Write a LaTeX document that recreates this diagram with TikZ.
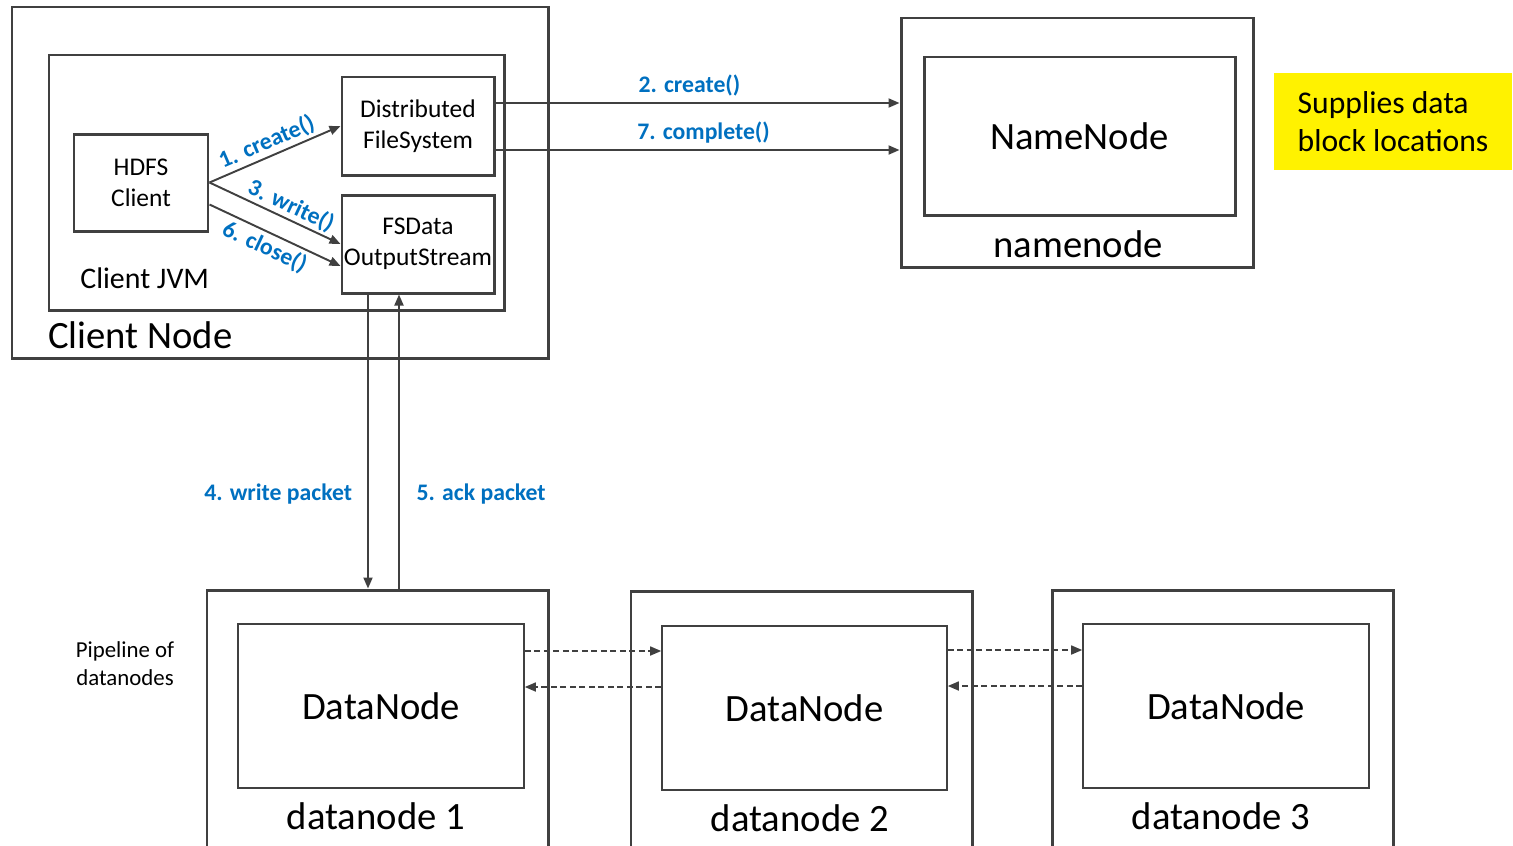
\documentclass[tikz,border=0pt]{standalone}
\usepackage{fontspec}
\setmainfont{Carlito}
\usetikzlibrary{arrows.meta}
\definecolor{linegray}{HTML}{404040}
\definecolor{labelblue}{HTML}{0070C0}

\begin{document}
\begin{tikzpicture}[x=0.2mm, y=-0.2mm,
  box/.style={draw=linegray, line width=1.7pt, inner sep=0pt},
  thinbox/.style={draw=linegray, line width=0.9pt, inner sep=0pt},
  arr/.style={draw=linegray, line width=1.1pt, -{Triangle[length=2.2mm,width=1.8mm]}},
  dasharr/.style={draw=linegray, line width=0.9pt, dash pattern=on 1.2mm off 0.7mm, -{Triangle[length=2.2mm,width=1.8mm]}},
  lbl/.style={text=labelblue, font=\fontsize{13.5}{16}\selectfont\bfseries},
  big/.style={font=\fontsize{22}{26}\selectfont},
  mid/.style={font=\fontsize{14.5}{17.6}\selectfont, align=center}]
\useasboundingbox (0,0) rectangle (1513,845);
\clip (0,0) rectangle (1513,845);
% client side
\node[box, minimum width=107.2mm, minimum height=70.2mm] (P_cnode) at (280,182.5) {};
\node[box, minimum width=91mm, minimum height=51mm] (P_jvm) at (276.5,182.5) {};
\node[box, mid, minimum width=26.8mm, minimum height=19.4mm] (P_hdfs) at (141,182.5) {HDFS\\Client};
\node[box, mid, minimum width=30.4mm, minimum height=19.6mm] (P_dfs) at (418,126) {Distributed\\FileSystem};
\node[box, mid, minimum width=30.4mm, minimum height=19.6mm] (P_fsd) at (418,244) {FSData\\OutputStream};
\node[font=\fontsize{17}{20}\selectfont, anchor=west, inner sep=0pt] (T_jvm) at (80,278) {Client JVM};
\node[big, anchor=west, inner sep=0pt] (T_cnode) at (48,335) {Client Node};
% namenode
\node[box, minimum width=70.4mm, minimum height=49.8mm] (P_nno) at (1077,142.5) {};
\node[box, big, minimum width=62.2mm, minimum height=31.6mm] (P_nni) at (1079.5,136) {NameNode};
\node[big] (T_nn) at (1078,244) {namenode};
\node[fill=yellow, minimum width=47.6mm, minimum height=19.4mm, font=\fontsize{18}{21.5}\selectfont, align=left] (P_note) at (1393,121.5) {Supplies data\\block locations};
% datanodes
\node[box, minimum width=68.2mm, minimum height=58mm] (P_dn1o) at (377.5,735) {};
\node[thinbox, big, minimum width=57.2mm, minimum height=32.8mm] (P_dn1i) at (381,706) {DataNode};
\node[big] (T_dn1) at (376,816) {datanode 1};
\node[box, minimum width=68.2mm, minimum height=58mm] (P_dn2o) at (801.5,736) {};
\node[thinbox, big, minimum width=57mm, minimum height=32.8mm] (P_dn2i) at (804.5,708) {DataNode};
\node[big] (T_dn2) at (800,818) {datanode 2};
\node[box, minimum width=68.2mm, minimum height=58mm] (P_dn3o) at (1222.5,735) {};
\node[thinbox, big, minimum width=57.2mm, minimum height=32.8mm] (P_dn3i) at (1226,706) {DataNode};
\node[big] (T_dn3) at (1221,816) {datanode 3};
\node[font=\fontsize{13}{16}\selectfont, align=center] (T_pipe) at (125,664) {Pipeline of\\datanodes};
% calls
\draw[arr] (P_hdfs.east) -- (P_dfs.west) node[lbl, pos=0.48, above, sloped, inner sep=1.5pt] {1. create()};
\draw[arr] (P_hdfs.east) -- (P_fsd.west) node[lbl, pos=0.58, above, sloped, inner sep=1pt] {3. write()};
\draw[arr] ([yshift=-4.4mm]P_hdfs.east) -- ([yshift=-4.4mm]P_fsd.west) node[lbl, pos=0.47, below, sloped, inner sep=2pt] {6. close()};
\draw[arr] ([yshift=4.6mm]P_dfs.east) -- ([yshift=4.6mm]P_dfs.east -| P_nno.west) node[lbl, pos=0.48, above] {2. create()};
\draw[arr] ([yshift=-4.8mm]P_dfs.east) -- ([yshift=-4.8mm]P_dfs.east -| P_nno.west) node[lbl, pos=0.515, above] {7. complete()};
\draw[arr] ([xshift=-10mm]P_fsd.south) -- ([xshift=-10mm]P_fsd.south |- P_dn1o.north) node[lbl, pos=0.68, left, inner sep=8.5pt] {4. write packet};
\draw[arr] ([xshift=-3.8mm]P_fsd.south |- P_dn1o.north) -- ([xshift=-3.8mm]P_fsd.south) node[lbl, pos=0.32, right, inner sep=9.5pt] {5. ack packet};
% pipeline
\draw[dasharr] ([yshift=11mm]P_dn1i.east) -- ([yshift=11mm]P_dn1i.east -| P_dn2i.west);
\draw[dasharr] ([yshift=4.2mm]P_dn2i.west) -- ([yshift=4.2mm]P_dn2i.west -| P_dn1i.east);
\draw[dasharr] ([yshift=11.6mm]P_dn2i.east) -- ([yshift=11.6mm]P_dn2i.east -| P_dn3i.west);
\draw[dasharr] ([yshift=4mm]P_dn3i.west) -- ([yshift=4mm]P_dn3i.west -| P_dn2i.east);
\end{tikzpicture}
\end{document}
